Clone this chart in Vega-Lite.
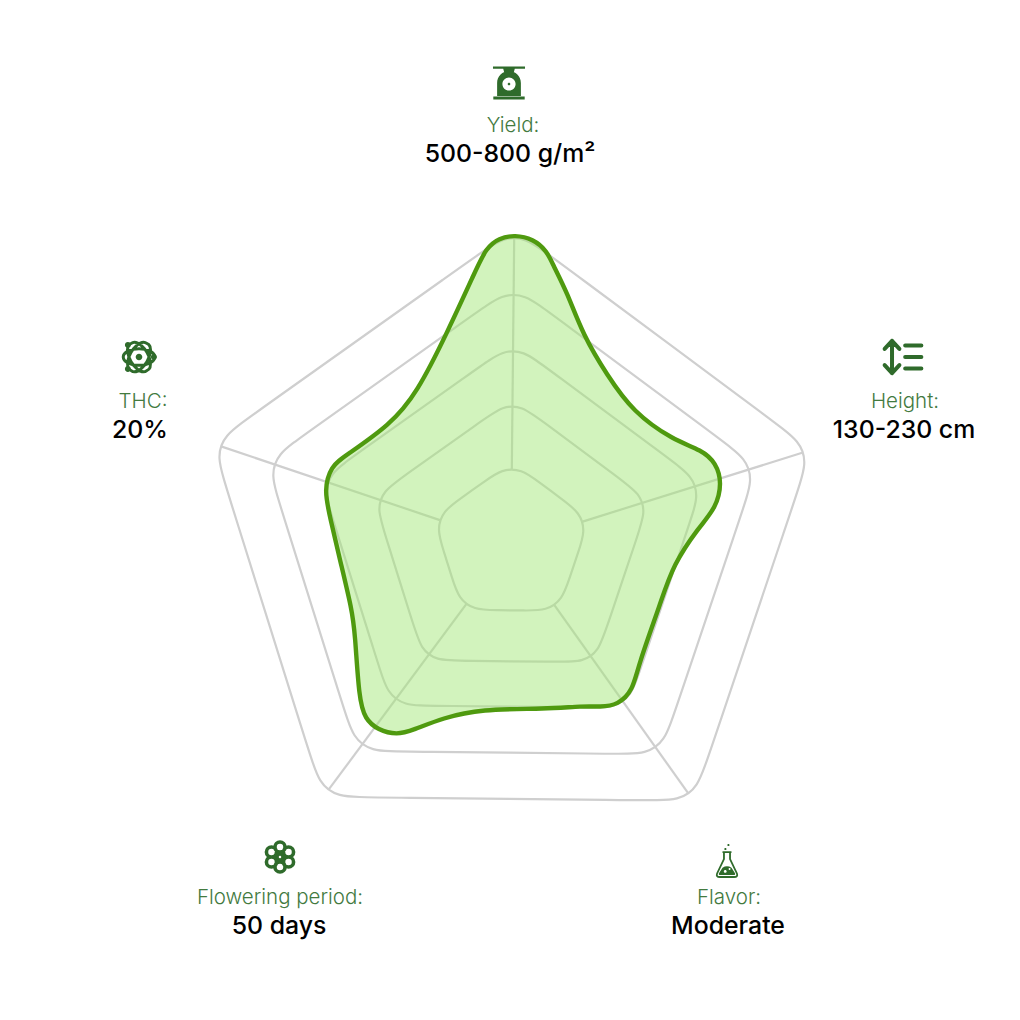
{
"$schema":"https://vega.github.io/schema/vega-lite/v6.json",
"autosize":{"type":"fit","contains":"padding"},"width":1020,"height":1020,"padding":0,
"background":"white","view":{"stroke":null},
"datasets":{
"rings":[
{"ring":1,"i":1,"x":-26.85,"y":-62.3},{"ring":1,"i":2,"x":-8.92,"y":-75.05},{"ring":1,"i":3,"x":10.49,"y":-74.84},{"ring":1,"i":4,"x":28.15,"y":-61.73},{"ring":1,"i":5,"x":50.95,"y":-44.79},{"ring":1,"i":6,"x":68.61,"y":-31.68},{"ring":1,"i":7,"x":74.41,"y":-13.15},{"ring":1,"i":8,"x":67.4,"y":7.7},{"ring":1,"i":9,"x":58.34,"y":34.62},{"ring":1,"i":10,"x":51.33,"y":55.47},{"ring":1,"i":11,"x":35.5,"y":66.71},{"ring":1,"i":12,"x":13.5,"y":66.48},{"ring":1,"i":13,"x":-14.89,"y":66.19},{"ring":1,"i":14,"x":-36.89,"y":65.96},{"ring":1,"i":15,"x":-52.48,"y":54.38},{"ring":1,"i":16,"x":-59.06,"y":33.39},{"ring":1,"i":17,"x":-67.55,"y":6.28},{"ring":1,"i":18,"x":-74.13,"y":-14.71},{"ring":1,"i":19,"x":-67.94,"y":-33.11},{"ring":1,"i":20,"x":-50.01,"y":-45.86},
{"ring":2,"i":1,"x":-27.82,"y":-124.15},{"ring":2,"i":2,"x":-8.26,"y":-138.05},{"ring":2,"i":3,"x":11.15,"y":-137.84},{"ring":2,"i":4,"x":30.42,"y":-123.53},{"ring":2,"i":5,"x":109.46,"y":-64.83},{"ring":2,"i":6,"x":128.73,"y":-50.52},{"ring":2,"i":7,"x":134.53,"y":-31.99},{"ring":2,"i":8,"x":126.88,"y":-9.24},{"ring":2,"i":9,"x":95.48,"y":84.07},{"ring":2,"i":10,"x":87.83,"y":106.82},{"ring":2,"i":11,"x":72,"y":118.06},{"ring":2,"i":12,"x":48,"y":117.81},{"ring":2,"i":13,"x":-50.45,"y":116.79},{"ring":2,"i":14,"x":-74.45,"y":116.54},{"ring":2,"i":15,"x":-90.04,"y":104.96},{"ring":2,"i":16,"x":-97.22,"y":82.06},{"ring":2,"i":17,"x":-126.66,"y":-11.91},{"ring":2,"i":18,"x":-133.84,"y":-34.81},{"ring":2,"i":19,"x":-127.65,"y":-53.21},{"ring":2,"i":20,"x":-108.09,"y":-67.11},
{"ring":3,"i":1,"x":-30.49,"y":-177.83},{"ring":3,"i":2,"x":-8.49,"y":-193.47},{"ring":3,"i":3,"x":12.55,"y":-193.25},{"ring":3,"i":4,"x":34.22,"y":-177.15},{"ring":3,"i":5,"x":159.68,"y":-83.95},{"ring":3,"i":6,"x":181.35,"y":-67.85},{"ring":3,"i":7,"x":187.64,"y":-47.78},{"ring":3,"i":8,"x":179.03,"y":-22.19},{"ring":3,"i":9,"x":129.2,"y":125.93},{"ring":3,"i":10,"x":120.59,"y":151.52},{"ring":3,"i":11,"x":103.44,"y":163.7},{"ring":3,"i":12,"x":76.44,"y":163.42},{"ring":3,"i":13,"x":-79.84,"y":161.78},{"ring":3,"i":14,"x":-106.84,"y":161.5},{"ring":3,"i":15,"x":-123.73,"y":148.96},{"ring":3,"i":16,"x":-131.8,"y":123.19},{"ring":3,"i":17,"x":-178.55,"y":-25.95},{"ring":3,"i":18,"x":-186.62,"y":-51.72},{"ring":3,"i":19,"x":-179.91,"y":-71.65},{"ring":3,"i":20,"x":-157.91,"y":-87.29},
{"ring":4,"i":1,"x":-33.15,"y":-232.51},{"ring":4,"i":2,"x":-8.7,"y":-249.89},{"ring":4,"i":3,"x":13.95,"y":-249.65},{"ring":4,"i":4,"x":38.03,"y":-231.76},{"ring":4,"i":5,"x":210.86,"y":-103.38},{"ring":4,"i":6,"x":234.94,"y":-85.49},{"ring":4,"i":7,"x":241.72,"y":-63.87},{"ring":4,"i":8,"x":232.15,"y":-35.44},{"ring":4,"i":9,"x":163.49,"y":168.6},{"ring":4,"i":10,"x":153.92,"y":197.03},{"ring":4,"i":11,"x":135.46,"y":210.15},{"ring":4,"i":12,"x":105.46,"y":209.84},{"ring":4,"i":13,"x":-109.82,"y":207.58},{"ring":4,"i":14,"x":-139.82,"y":207.27},{"ring":4,"i":15,"x":-158.01,"y":193.76},{"ring":4,"i":16,"x":-166.98,"y":165.14},{"ring":4,"i":17,"x":-231.37,"y":-40.32},{"ring":4,"i":18,"x":-240.34,"y":-68.94},{"ring":4,"i":19,"x":-233.12,"y":-90.41},{"ring":4,"i":20,"x":-208.67,"y":-107.79},
{"ring":5,"i":1,"x":-35.81,"y":-287.19},{"ring":5,"i":2,"x":-8.1,"y":-306.89},{"ring":5,"i":3,"x":14.55,"y":-306.65},{"ring":5,"i":4,"x":41.84,"y":-286.38},{"ring":5,"i":5,"x":262.04,"y":-122.81},{"ring":5,"i":6,"x":289.33,"y":-102.54},{"ring":5,"i":7,"x":296.11,"y":-80.92},{"ring":5,"i":8,"x":285.26,"y":-48.7},{"ring":5,"i":9,"x":197.79,"y":211.27},{"ring":5,"i":10,"x":186.94,"y":243.49},{"ring":5,"i":11,"x":168.48,"y":256.61},{"ring":5,"i":12,"x":134.48,"y":256.26},{"ring":5,"i":13,"x":-139.8,"y":253.38},{"ring":5,"i":14,"x":-173.8,"y":253.03},{"ring":5,"i":15,"x":-191.99,"y":239.52},{"ring":5,"i":16,"x":-202.16,"y":207.08},{"ring":5,"i":17,"x":-284.2,"y":-54.69},{"ring":5,"i":18,"x":-294.37,"y":-87.13},{"ring":5,"i":19,"x":-287.15,"y":-108.6},{"ring":5,"i":20,"x":-259.44,"y":-128.3}
],
"spokes":[
{"axis":"Yield","i":1,"x":0.8,"y":-75},{"axis":"Yield","i":2,"x":3.2,"y":-306},
{"axis":"Height","i":1,"x":71.6,"y":-22.4},{"axis":"Height","i":2,"x":292,"y":-91.5},
{"axis":"Flavor","i":1,"x":43.4,"y":61.1},{"axis":"Flavor","i":2,"x":177.3,"y":249.4},
{"axis":"Flowering period","i":1,"x":-44.7,"y":60.2},{"axis":"Flowering period","i":2,"x":-182.4,"y":245.7},
{"axis":"THC","i":1,"x":-71.1,"y":-23.9},{"axis":"THC","i":2,"x":-290,"y":-97.6}
],
"profile":[
{"i":1,"x":4,"y":-309},{"i":2,"x":22,"y":-305},{"i":3,"x":36,"y":-293},{"i":4,"x":42,"y":-279},{"i":5,"x":56,"y":-252},{"i":6,"x":72,"y":-209},{"i":7,"x":96,"y":-169},{"i":8,"x":122,"y":-132},{"i":9,"x":162,"y":-104},{"i":10,"x":191,"y":-94},{"i":11,"x":205,"y":-81},{"i":12,"x":211,"y":-61},{"i":13,"x":205,"y":-36},{"i":14,"x":188,"y":-17},{"i":15,"x":162,"y":21},{"i":16,"x":150,"y":58},{"i":17,"x":127,"y":122},{"i":18,"x":122,"y":146},{"i":19,"x":107,"y":161},{"i":20,"x":89,"y":163},{"i":21,"x":72,"y":162},{"i":22,"x":36,"y":165},{"i":23,"x":-31,"y":165},{"i":24,"x":-68,"y":174},{"i":25,"x":-98,"y":186},{"i":26,"x":-114,"y":191},{"i":27,"x":-133,"y":186},{"i":28,"x":-146,"y":175},{"i":29,"x":-152,"y":155},{"i":30,"x":-156,"y":89},{"i":31,"x":-159,"y":66},{"i":32,"x":-171,"y":16},{"i":33,"x":-181,"y":-27},{"i":34,"x":-187,"y":-54},{"i":35,"x":-180,"y":-78},{"i":36,"x":-166,"y":-88},{"i":37,"x":-121,"y":-119},{"i":38,"x":-94,"y":-151},{"i":39,"x":-64,"y":-211},{"i":40,"x":-36,"y":-272},{"i":41,"x":-25,"y":-296},{"i":42,"x":-12,"y":-306}
],
"labels":[
{"role":"label","text":"Yield:","x":2,"y":-418},{"role":"value","text":"500-800 g/m²","x":-1,"y":-389},
{"role":"label","text":"Height:","x":394,"y":-142},{"role":"value","text":"130-230 cm","x":393,"y":-113},
{"role":"label","text":"THC:","x":-368,"y":-142},{"role":"value","text":"20%","x":-371,"y":-113},
{"role":"label","text":"Flowering period:","x":-231,"y":354},{"role":"value","text":"50 days","x":-232,"y":383},
{"role":"label","text":"Flavor:","x":218,"y":354},{"role":"value","text":"Moderate","x":217,"y":383}
],
"icons":[
{"icon":"scale","x":-2,"y":-461},{"icon":"height","x":392,"y":-187},{"icon":"atom","x":-372,"y":-187},{"icon":"flower","x":-231,"y":313},{"icon":"flask","x":216,"y":317}
]
},
"encoding":{
"x":{"field":"x","type":"quantitative","scale":{"domain":[-511,509]},"axis":null},
"y":{"field":"y","type":"quantitative","scale":{"domain":[476,-544]},"axis":null}
},
"layer":[
{"data":{"name":"rings"},"mark":{"type":"line","interpolate":"basis-closed","stroke":"#cfcfcf","strokeWidth":2.2},"encoding":{"detail":{"field":"ring"},"order":{"field":"i"}}},
{"data":{"name":"spokes"},"mark":{"type":"line","stroke":"#cfcfcf","strokeWidth":2.2},"encoding":{"detail":{"field":"axis"},"order":{"field":"i"}}},
{"data":{"name":"profile"},"mark":{"type":"line","interpolate":"basis-closed","fill":"#a1e675","fillOpacity":0.48,"stroke":"#4f9a0f","strokeWidth":4.4},"encoding":{"order":{"field":"i"}}},
{"data":{"name":"labels"},"transform":[{"filter":"datum.role==='label'"}],"mark":{"type":"text","font":"Inter","fontSize":20.5,"fontWeight":300,"fill":"#437a3f","align":"center","baseline":"middle"},"encoding":{"text":{"field":"text"}}},
{"data":{"name":"labels"},"transform":[{"filter":"datum.role==='value'"}],"mark":{"type":"text","font":"Inter","fontSize":24.8,"fontWeight":500,"fill":"#000000","align":"center","baseline":"middle"},"encoding":{"text":{"field":"text"}}},
{"data":{"name":"icons"},"transform":[{"filter":"datum.icon==='scale'"}],"mark":{"type":"point","filled":true,"size":1090,"opacity":1,"fill":"#2f6b2b","shape":"M-0.97,-1H0.97V-0.86H-0.97Z M-0.35,-0.86H0.35L0.28,-0.6H-0.28Z M-0.72,0.78V0A0.72,0.72 0 0 1 0.72,0V0.78Z M-0.4,0.06A0.4,0.4 0 0 0 0.4,0.06A0.4,0.4 0 0 0 -0.4,0.06Z M-0.08,0.06A0.08,0.08 0 0 1 0.08,0.06A0.08,0.08 0 0 1 -0.08,0.06Z M-0.95,0.82H0.95V1H-0.95Z"}},
{"data":{"name":"icons"},"transform":[{"filter":"datum.icon==='height'"}],"mark":{"type":"point","filled":false,"size":1296,"opacity":1,"stroke":"#2f6b2b","strokeWidth":4,"strokeCap":"round","strokeJoin":"round","shape":"M-0.61,-0.9V0.9M-1.02,-0.45L-0.61,-0.9L-0.2,-0.45M-1.02,0.45L-0.61,0.9L-0.2,0.45M0.12,-0.64H1.02M0.12,0H1.02M0.12,0.64H1.02"}},
{"data":{"name":"icons"},"transform":[{"filter":"datum.icon==='atom'"}],"mark":{"type":"point","filled":false,"size":1100,"opacity":1,"stroke":"#2f6b2b","strokeWidth":3,"shape":"M-0.95,0A0.95,0.5 0 1 1 0.95,0A0.95,0.5 0 1 1 -0.95,0Z M-0.47,-0.82A0.95,0.5 60 1 1 0.47,0.82A0.95,0.5 60 1 1 -0.47,-0.82Z M-0.47,0.82A0.95,0.5 -60 1 1 0.47,-0.82A0.95,0.5 -60 1 1 -0.47,0.82Z"}},
{"data":{"name":"icons"},"transform":[{"filter":"datum.icon==='atom'"}],"mark":{"type":"point","filled":true,"size":1100,"opacity":1,"fill":"#2f6b2b","shape":"M-0.2,0A0.2,0.2 0 1 1 0.2,0A0.2,0.2 0 1 1 -0.2,0Z M-0.85,-0.72A0.18,0.18 0 1 1 -0.49,-0.72A0.18,0.18 0 1 1 -0.85,-0.72Z M0.72,0A0.18,0.18 0 1 1 1.08,0A0.18,0.18 0 1 1 0.72,0Z M-0.85,0.72A0.18,0.18 0 1 1 -0.49,0.72A0.18,0.18 0 1 1 -0.85,0.72Z"}},
{"data":{"name":"icons"},"transform":[{"filter":"datum.icon==='flower'"}],"mark":{"type":"point","filled":false,"size":930,"opacity":1,"stroke":"#2f6b2b","strokeWidth":3.6,"shape":"M-0.33,-0.65A0.33,0.33 0 1 1 0.33,-0.65A0.33,0.33 0 1 1 -0.33,-0.65Z M0.23,-0.33A0.33,0.33 0 1 1 0.89,-0.33A0.33,0.33 0 1 1 0.23,-0.33Z M0.23,0.33A0.33,0.33 0 1 1 0.89,0.33A0.33,0.33 0 1 1 0.23,0.33Z M-0.33,0.65A0.33,0.33 0 1 1 0.33,0.65A0.33,0.33 0 1 1 -0.33,0.65Z M-0.89,0.33A0.33,0.33 0 1 1 -0.23,0.33A0.33,0.33 0 1 1 -0.89,0.33Z M-0.89,-0.33A0.33,0.33 0 1 1 -0.23,-0.33A0.33,0.33 0 1 1 -0.89,-0.33Z M-0.2,0A0.2,0.2 0 1 1 0.2,0A0.2,0.2 0 1 1 -0.2,0Z"}},
{"data":{"name":"icons"},"transform":[{"filter":"datum.icon==='flask'"}],"mark":{"type":"point","filled":false,"size":1024,"opacity":1,"stroke":"#2f6b2b","strokeWidth":1.8,"shape":"M-0.19,-0.56V-0.12L-0.62,0.78Q-0.7,1 -0.45,1H0.45Q0.7,1 0.62,0.78L0.19,-0.12V-0.56M-0.28,-0.56H0.28"}},
{"data":{"name":"icons"},"transform":[{"filter":"datum.icon==='flask'"}],"mark":{"type":"point","filled":true,"size":1024,"opacity":1,"fill":"#2f6b2b","shape":"M-0.28,0.42Q0,0.25 0.28,0.42L0.5,0.76Q0.55,0.88 0.4,0.88H-0.4Q-0.55,0.88 -0.5,0.76Z M-0.2,0.65A0.09,0.09 0 0 0 -0.02,0.65A0.09,0.09 0 0 0 -0.2,0.65Z M0.1,0.5A0.06,0.06 0 0 0 0.22,0.5A0.06,0.06 0 0 0 0.1,0.5Z M0.02,-1A0.07,0.07 0 1 1 0.16,-1A0.07,0.07 0 1 1 0.02,-1Z M-0.17,-0.75A0.07,0.07 0 1 1 -0.03,-0.75A0.07,0.07 0 1 1 -0.17,-0.75Z"}}
]
}
